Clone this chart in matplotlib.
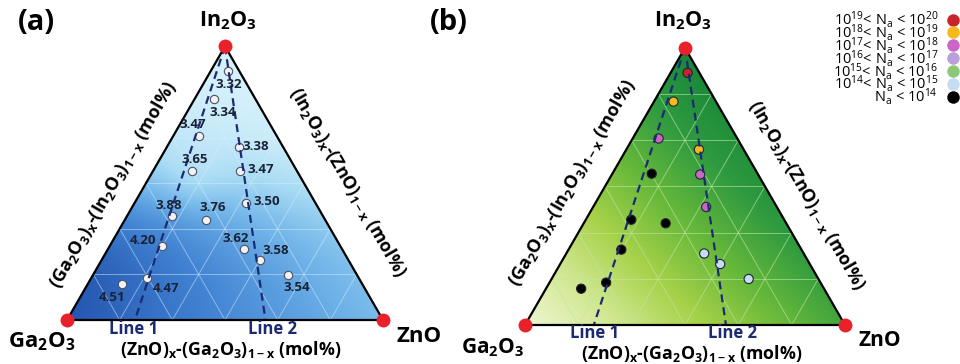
import numpy as np
import matplotlib
matplotlib.use("Agg")
import matplotlib.pyplot as plt
from matplotlib.colors import LinearSegmentedColormap
from matplotlib.patches import Polygon

plt.rcParams['font.family'] = ['Open Sans', 'DejaVu Sans']
plt.rcParams['mathtext.default'] = 'regular'

# ---- data -------------------------------------------------------------
# sample compositions (mole fractions); Ga2O3 = 1 - In2O3 - ZnO
in2o3 = [0.910, 0.806, 0.673, 0.633, 0.546, 0.543, 0.380, 0.367,
         0.426, 0.272, 0.258, 0.220, 0.153, 0.131, 0.166]
zno = [0.053, 0.061, 0.081, 0.227, 0.123, 0.276, 0.142, 0.256,
       0.353, 0.165, 0.431, 0.500, 0.177, 0.110, 0.616]
# optical band gap (eV) of each sample
bandgap = [3.32, 3.34, 3.47, 3.38, 3.65, 3.47, 3.88, 3.76,
           3.50, 4.20, 3.62, 3.58, 4.47, 4.51, 3.54]
# carrier-density class of each sample (index into the legend below)
na_class = [0, 1, 2, 1, 6, 2, 6, 6, 2, 6, 5, 5, 6, 6, 5]

na_labels = [r'$10^{19}$< N$_a$ < $10^{20}$', r'$10^{18}$< N$_a$ < $10^{19}$',
             r'$10^{17}$< N$_a$ < $10^{18}$', r'$10^{16}$< N$_a$ < $10^{17}$',
             r'$10^{15}$< N$_a$ < $10^{16}$', r'$10^{14}$< N$_a$ < $10^{15}$',
             r'N$_a$ < $10^{14}$']
na_colors = ['#c4262c', '#f6b81e', '#cc66c6', '#b9a0d8', '#8cc878', '#c6dcf2', '#000000']

# ZnO share ZnO/(ZnO+Ga2O3) of the two composition lines through the In2O3 corner
line_zn_share = [0.215, 0.628]
line_names = ['Line 1', 'Line 2']

# ---- helpers ----------------------------------------------------------
H = np.sqrt(3) / 2
W_PX, H_PX = 960, 364


def tern(i, z):
    i = np.asarray(i, float)
    z = np.asarray(z, float)
    return z + i / 2, i * H


def px(x, y):
    return x / W_PX, 1 - y / H_PX


fig = plt.figure(figsize=(W_PX / 100, H_PX / 100), dpi=100)
NAVY = '#1c2a74'


def make_panel(gx, gy, side):
    m = 0.12
    w = (1 + 2 * m) * side
    h = (H + 2 * m) * side
    left = gx - m * side
    bottom = (H_PX - gy) - m * side
    ax = fig.add_axes([left / W_PX, bottom / H_PX, w / W_PX, h / H_PX])
    ax.set_xlim(-m, 1 + m)
    ax.set_ylim(-m, H + m)
    ax.set_aspect('auto')
    ax.axis('off')
    return ax


def background(ax, field, cmap, grid_color, grid_alpha):
    n = 500
    X, Y = np.meshgrid(np.linspace(0, 1, n), np.linspace(0, H, n))
    I = np.clip(Y / H, 0, 1)
    Z = X - I / 2
    G = 1 - I - Z
    v = np.clip(field(I, Z, G, X, Y), 0, 1)
    tri = Polygon([(0, 0), (1, 0), (0.5, H)], closed=True, fc='none', ec='none')
    ax.add_patch(tri)
    im = ax.imshow(v, origin='lower', extent=[0, 1, 0, H], cmap=cmap,
                   vmin=0, vmax=1, interpolation='bilinear', zorder=1)
    im.set_clip_path(tri)
    # grid at 1/6 steps parallel to every side
    for k in range(1, 6):
        t = k / 6
        for (i0, z0), (i1, z1) in [((t, 0), (t, 1 - t)),
                                   ((0, t), (1 - t, t)),
                                   ((0, 1 - t), (1 - t, 0))]:
            xs, ys = tern([i0, i1], [z0, z1])
            ax.plot(xs, ys, color=grid_color, lw=0.7, alpha=grid_alpha, zorder=2)
    ax.plot([0, 1, 0.5, 0], [0, 0, H, 0], color='black', lw=1.6, zorder=6,
            solid_joinstyle='miter')


def comp_lines(ax):
    for s in line_zn_share:
        xs, ys = tern([1, 0], [0, s])
        ax.plot(xs, ys, color=NAVY, lw=1.6, dashes=(3.6, 2.3), zorder=5)


def corners(ax):
    xs, ys = tern([0, 0, 1], [0, 1, 0])
    ax.plot(xs, ys, 'o', ms=10, color='#e8212a', mec='none', zorder=8, clip_on=False)


# ---- panel (a): band gap ----------------------------------------------
ax_a = make_panel(67, 320, 316)
cmap_a = LinearSegmentedColormap.from_list(
    'gap', ['#d8f2fc', '#a6daf4', '#6eb2e8', '#4082d2', '#2454ae'])


def field_a(I, Z, G, X, Y):
    share = np.clip(Z / np.maximum(G + Z, 1e-9), 0, 1)
    v = 1 / (1 + np.exp((I - 0.47) / 0.11)) * (1 - 0.55 * share)
    v -= 0.10 * np.exp(-((X - 0.40) ** 2 + (Y - 0.45) ** 2) / (2 * 0.07 ** 2))
    return v


background(ax_a, field_a, cmap_a, '#d6eefa', 0.5)
comp_lines(ax_a)
corners(ax_a)
xa, ya = tern(in2o3, zno)
ax_a.plot(xa, ya, 'o', ms=6, mfc='#f2f2f2', mec='#4a5266', mew=0.8, ls='none', zorder=4)
gap_offsets = [(1, -14), (9, -13), (-6, 11), (17, 0), (3, 11), (21, 2),
               (-3, 11), (7, 12), (21, 2), (-19, 5), (-8, 11), (16, 9),
               (19, -10), (-10, -13), (9, -13)]
for x, y, g, off in zip(xa, ya, bandgap, gap_offsets):
    ax_a.annotate(f'{g:.2f}', (x, y), xytext=off, textcoords='offset pixels',
                  ha='center', va='center', fontsize=9.5, fontweight='bold',
                  color='#1a2236', zorder=7)

# ---- panel (b): carrier density ---------------------------------------
ax_b = make_panel(525, 325, 320)
cmap_b = LinearSegmentedColormap.from_list(
    'dens', ['#eff6d2', '#d2e894', '#a8d24a', '#66b83a', '#2e9a40', '#178638'])


def field_b(I, Z, G, X, Y):
    return I * 1.0 + Z * 0.72


background(ax_b, field_b, cmap_b, '#c2e6a6', 0.6)
comp_lines(ax_b)
corners(ax_b)
xb, yb = tern(in2o3, zno)
ax_b.scatter(xb, yb, s=44, c=[na_colors[c] for c in na_class],
             edgecolors='#202530', linewidths=0.8, zorder=4)

# ---- texts ------------------------------------------------------------
bold = dict(fontweight='bold', ha='center', va='center')
fig.text(*px(36, 22), '(a)', fontsize=21, **bold)
fig.text(*px(449, 22), '(b)', fontsize=21, **bold)

panels = [dict(top=(228, 21), ga=(42, 342), zn=(419, 337), lines=(134, 272),
               line_y=329, axis=(231, 350), fs=16),
          dict(top=(683, 21), ga=(493, 348), zn=(880, 341), lines=(595, 732),
               line_y=333, axis=(692, 354), fs=15)]
for p in panels:
    fig.text(*px(*p['top']), 'In$_2$O$_3$', fontsize=15.5, **bold)
    fig.text(*px(*p['ga']), 'Ga$_2$O$_3$', fontsize=p['fs'], **bold)
    fig.text(*px(*p['zn']), 'ZnO', fontsize=p['fs'], **bold)
    for name, x in zip(line_names, p['lines']):
        fig.text(*px(x, p['line_y']), name, fontsize=12, color=NAVY, **bold)
    fig.text(*px(*p['axis']), '(ZnO)$_x$-(Ga$_2$O$_3$)$_{1-x}$ (mol%)',
             fontsize=12.8, **bold)

for x, y in [(113, 185), (572, 183)]:
    fig.text(*px(x, y), '(Ga$_2$O$_3$)$_x$-(In$_2$O$_3$)$_{1-x}$ (mol%)',
             fontsize=13, rotation=60, rotation_mode='anchor', **bold)
for x, y in [(348, 182), (807, 195)]:
    fig.text(*px(x, y), '(In$_2$O$_3$)$_x$-(ZnO)$_{1-x}$ (mol%)',
             fontsize=12.8, rotation=-60, rotation_mode='anchor', **bold)

# legend for carrier density classes: one right-aligned text block plus dots
LEG_FS = 10.5
leg = fig.text(*px(938, 9), '\n'.join(na_labels), fontsize=LEG_FS, ha='right',
               va='top', multialignment='right', linespacing=0.48)
probe = fig.text(0, 0, na_labels[0], fontsize=LEG_FS)
fig.canvas.draw()
bb = leg.get_window_extent()
h1 = probe.get_window_extent().height
probe.remove()
step = (bb.height - h1) / (len(na_labels) - 1)
for k, col in enumerate(na_colors):
    yc = bb.y1 - 0.5 * h1 - k * step
    fig.lines.append(plt.Line2D([953 / W_PX], [yc / H_PX], marker='o', ms=9,
                                color=col, mec='none', transform=fig.transFigure,
                                figure=fig))

fig.savefig('out.png', dpi=100)
